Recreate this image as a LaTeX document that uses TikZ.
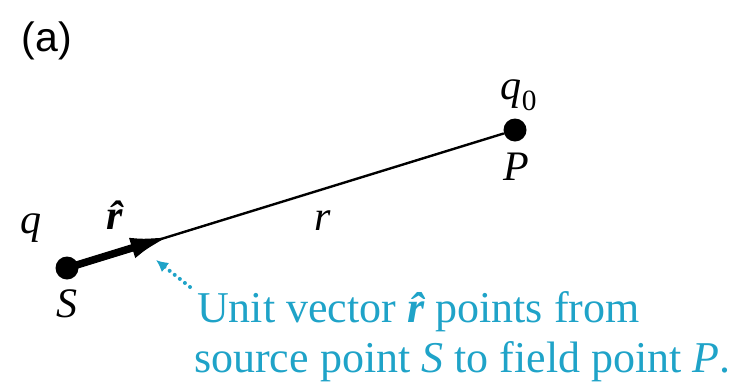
\documentclass[tikz,border=0pt]{standalone}
\usepackage{fontspec}
\setmainfont{Liberation Serif}
\newfontfamily\panelfont{Liberation Sans}
\usepackage{tikz}
\usetikzlibrary{arrows.meta,calc}
\definecolor{NoteCyan}{HTML}{1FA3C8}

\begin{document}
\begin{tikzpicture}[
  x=1pt, y=-1pt,
  charge/.style={circle, fill=black, inner sep=0pt, minimum size=23pt},
  lbl/.style={font=\fontsize{42}{46}\selectfont\itshape, inner sep=0pt},
  unitvec/.style={-{Latex[length=42pt,width=21pt]}, line width=7.5pt},
  note/.style={font=\fontsize{44}{50}\selectfont, text=NoteCyan, align=left, inner sep=0pt},
  hint/.style={-{Latex[length=12pt,width=12pt]}, draw=NoteCyan, line width=4pt,
    line cap=round, dash pattern=on 0pt off 6.5pt}
]
\useasboundingbox (0,0) rectangle (749,386);
\node[font=\fontsize{41}{46}\selectfont\panelfont, inner sep=0pt] (panel) at (47,41) {(a)};

\node[charge] (S) at (67,268) {};
\node[charge] (P) at (515,130) {};
\coordinate (tip) at ($(S)!0.235!(P)$);

\draw[line width=2.4pt] (S) -- (P);
\draw[unitvec] (S.center) -- (tip);

\node[lbl] (q) at (31,228) {q};
\node[lbl] (S lbl) at (67,304) {S};
\node[lbl] (q0) at (519,95) {q\textsubscript{\upshape 0}};
\node[lbl] (P lbl) at (516,167) {P};
\node[lbl, font=\fontsize{42}{46}\selectfont\bfseries\itshape] (rhat) at (115,215) {\^{r}};
\node[lbl] (r) at (323,221) {r};

\node[note, anchor=north west] (txt) at (197,291)
  {Unit vector {\bfseries\itshape\^{r}} points from\\
   \hspace*{-3pt}source point \textit{S} to field point \textit{P}.};
\coordinate (hint end) at (156,260);
\coordinate (hint start) at (190,287);
\draw[hint] (hint start) -- (hint end);
\end{tikzpicture}
\end{document}
